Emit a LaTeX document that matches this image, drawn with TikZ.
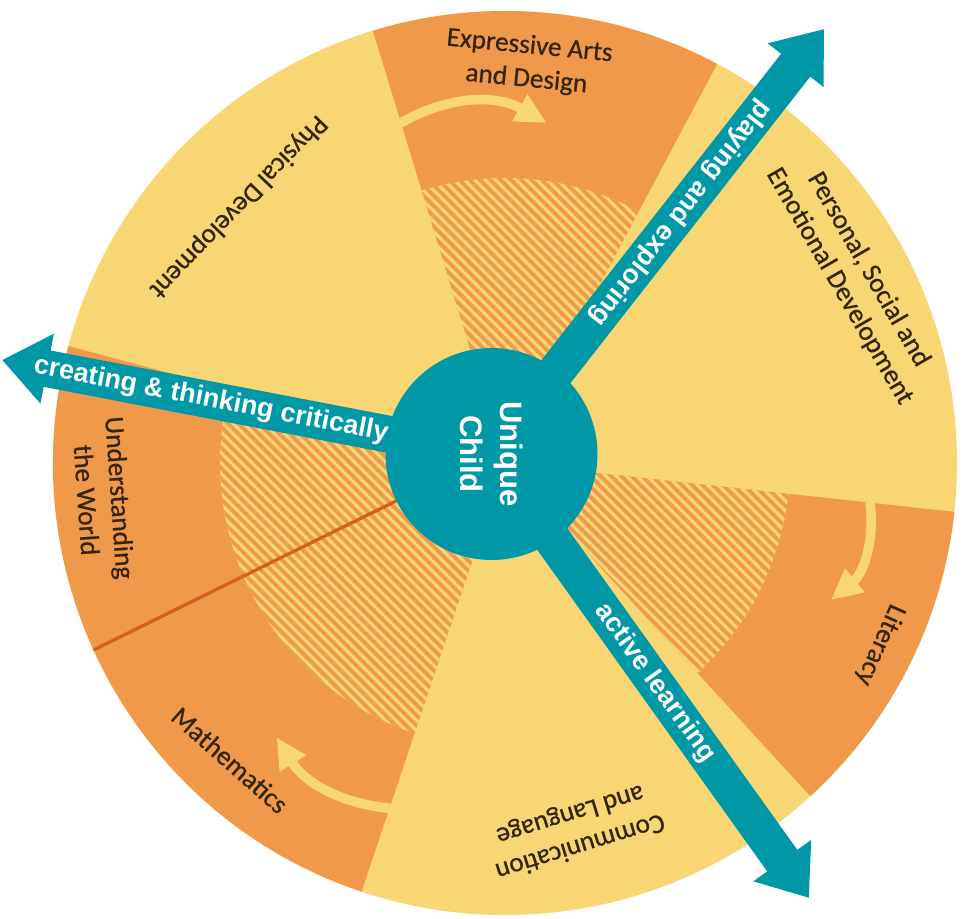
\documentclass[tikz,border=0pt]{standalone}
\usepackage{fontspec}
\setmainfont{Carlito}
\newfontfamily\areafont{Carlito}[FakeBold=0.6]
\newfontfamily\arrowfont{Liberation Sans}
\usetikzlibrary{arrows.meta,positioning}

\definecolor{wheelyellow}{RGB}{248,214,115}
\definecolor{wheelorange}{RGB}{240,153,75}
\definecolor{hubteal}{RGB}{0,151,167}
\definecolor{splitorange}{RGB}{214,95,30}
\definecolor{areabrown}{RGB}{52,36,16}

\begin{document}
\begin{tikzpicture}[
    area/.style={align=center, text=areabrown, font=\areafont\fontsize{15.5}{19}\selectfont},
    turn/.style={draw=wheelyellow, line width=0.19cm, -{Triangle[length=0.62cm, width=0.58cm]}},
    journey/.style={draw=hubteal, line width=0.74cm, -{Triangle[length=0.92cm, width=1.36cm]}},
    journeytext/.style={text=white, inner sep=0pt, font=\arrowfont\bfseries\fontsize{15.3}{18}\selectfont},
    hub/.style={circle, fill=hubteal, minimum size=4.24cm, inner sep=0pt, align=center, text=white, font=\arrowfont\bfseries\fontsize{17.7}{22.7}\selectfont},
    stripe/.style={draw=wheelorange, line width=0.075cm}
]
\useasboundingbox (-10.1,-9.1) rectangle (9.16,9.26);

% wheel
\fill[wheelyellow] (0,0) circle (9.04);
\fill[wheelorange] (0,0) -- (62:9.04) arc[start angle=62, end angle=107, radius=9.04] -- cycle;
\fill[wheelorange] (0,0) -- (-47.5:9.04) arc[start angle=-47.5, end angle=-6.2, radius=9.04] -- cycle;
\fill[wheelorange] (0,0) -- (165:9.04) arc[start angle=165, end angle=251.5, radius=9.04] -- cycle;

% hatched inner part
\begin{scope}
\clip (0,0) -- (62:5.7) arc[start angle=62, end angle=107, radius=5.7] -- cycle
      (0,0) -- (-47.5:5.7) arc[start angle=-47.5, end angle=-6.2, radius=5.7] -- cycle
      (0,0) -- (165:5.7) arc[start angle=165, end angle=251.5, radius=5.7] -- cycle;
\fill[wheelyellow] (-6,-6) rectangle (6,6);
\foreach \k in {-40,...,40}
  \draw[stripe] ({\k*0.2065-10},10) -- ({\k*0.2065+10},-10);
\end{scope}

\coordinate (hc) at (-0.27,0.18);
\coordinate (rimsplit) at (-8.23,-3.74);
\draw[splitorange, line width=0.066cm] (hc) -- (rimsplit);

% flow arrows
\coordinate (artsfrom) at (107.5:7.1);
\coordinate (artsto) at (83:6.85);
\coordinate (litfrom) at (-6.1:7.34);
\coordinate (litto) at (-22.8:7.07);
\coordinate (mathsfrom) at (-108.4:7.28);
\coordinate (mathsto) at (-129.8:7.14);
\draw[turn] (artsfrom) to[bend left=30] (artsto);
\draw[turn] (litfrom) to[bend left=29] (litto);
\draw[turn] (mathsfrom) to[bend left=26] (mathsto);

% areas
\node[area, rotate=-5.5] (arts) at (0.46,8.0) {Expressive Arts\\and Design};
\node[area, rotate=226] (physical) at (-5.34,5.13) {Physical Development};
\node[area, rotate=-60] (psed) at (6.98,3.7) {Personal, Social and\\Emotional Development};
\node[area, rotate=-114] (literacy) at (7.5,-3.64) {Literacy};
\node[area, rotate=-163] (language) at (1.4,-7.34) {Communication\\and Language};
\node[area, rotate=-41.5] (maths) at (-5.5,-5.94) {Mathematics};
\node[area, rotate=-86] (world) at (-8.03,-0.72) {Understanding\\the World};

% characteristics of learning
\coordinate (creatingtip) at (-10.06,2.06);
\coordinate (playingtip) at (6.38,8.68);
\coordinate (activetip) at (6.08,-8.7);
\draw[journey] (hc) -- (creatingtip);
\draw[journey] (hc) -- (playingtip);
\draw[journey] (hc) -- (activetip);
\node[hub, rotate=-90] (hub) at (hc) {Unique\\Child};
\path (hc) -- (creatingtip) node[journeytext, pos=0.573, sloped] (creating) {creating \& thinking critically};
\path (playingtip) -- (hc) node[journeytext, pos=0.433, sloped, allow upside down] (playing) {playing and exploring};
\path (hc) -- (activetip) node[journeytext, pos=0.516, sloped] (active) {active learning};
\end{tikzpicture}
\end{document}
